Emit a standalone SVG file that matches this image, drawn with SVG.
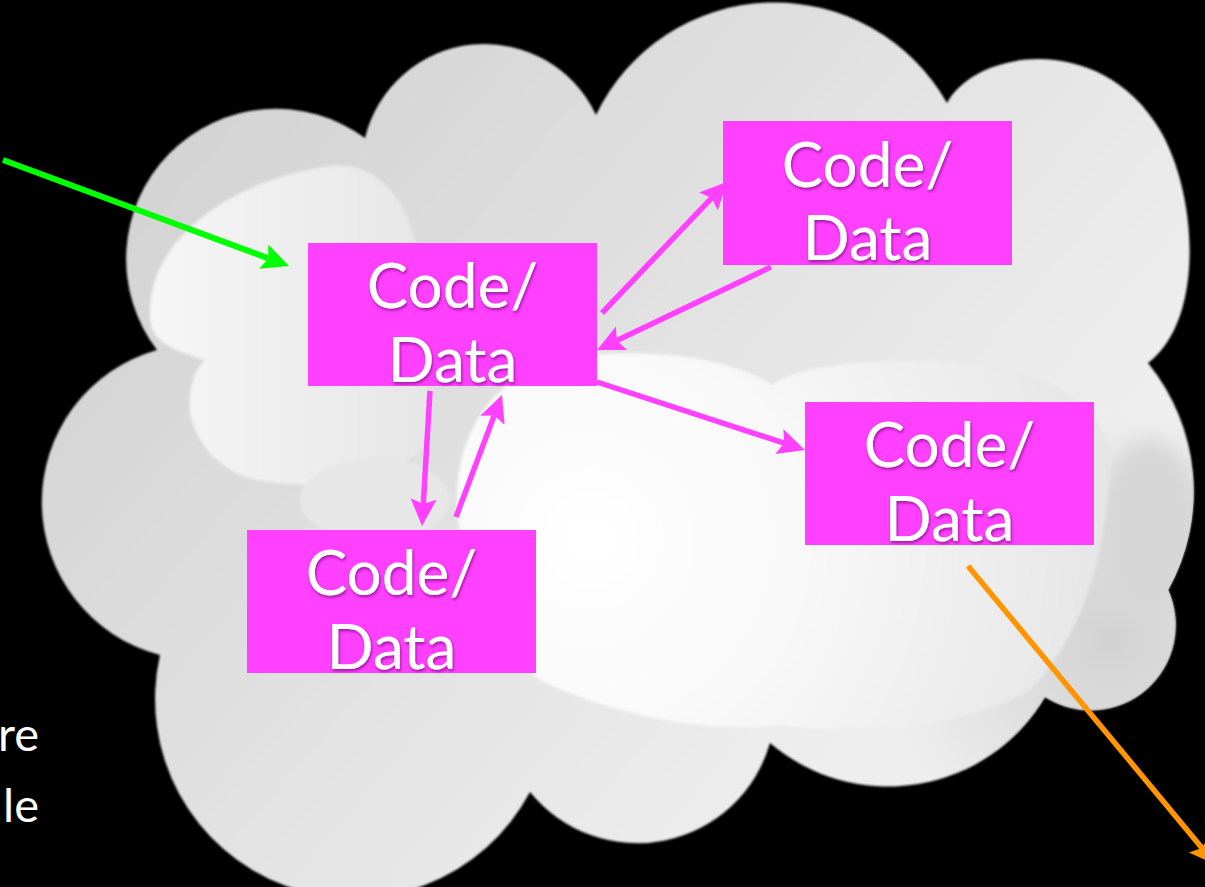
<svg xmlns="http://www.w3.org/2000/svg" width="1205" height="887" viewBox="0 0 1205 887">
  <defs>
    <style>
      .box { fill: #ff40ff; }
      .lbl { font-family: Lato, "Open Sans", "Liberation Sans", sans-serif; font-size: 62px; fill: #ffffff; text-anchor: middle; filter: url(#txtShadow); }
      .side { font-family: Lato, "Open Sans", "Liberation Sans", sans-serif; font-size: 47px; fill: #ffffff; text-anchor: end; }
      .wire { fill: none; stroke-width: 5.5; stroke-linecap: butt; }
      .w-green { stroke: #00ff00; stroke-width: 6; marker-end: url(#headGreen); }
      .w-pink { stroke: #ff40ff; marker-end: url(#headPink); }
      .w-orange { stroke: #ff9500; marker-end: url(#headOrange); }
    </style>

    <!-- swept-back arrowheads; the reference point is the notch where the shaft ends -->
    <marker id="headGreen" markerUnits="userSpaceOnUse" orient="auto" viewBox="-10 -20 40 40" markerWidth="40" markerHeight="40" refX="0" refY="0" overflow="visible">
      <path d="M22,0 L-5,-13 L0,0 L-5,13 Z" fill="#00ff00"/>
    </marker>
    <marker id="headPink" markerUnits="userSpaceOnUse" orient="auto" viewBox="-10 -20 40 40" markerWidth="40" markerHeight="40" refX="0" refY="0" overflow="visible">
      <path d="M22,0 L-5,-13 L0,0 L-5,13 Z" fill="#ff40ff"/>
    </marker>
    <marker id="headOrange" markerUnits="userSpaceOnUse" orient="auto" viewBox="-10 -20 40 40" markerWidth="40" markerHeight="40" refX="0" refY="0" overflow="visible">
      <path d="M22,0 L-5,-13 L0,0 L-5,13 Z" fill="#ff9500"/>
    </marker>

    <filter id="txtShadow" x="-20%" y="-30%" width="140%" height="160%">
      <feDropShadow dx="1" dy="2" stdDeviation="1.6" flood-color="#8c0a8c" flood-opacity="0.85"/>
    </filter>
    <filter id="softEdge" x="-5%" y="-5%" width="110%" height="110%">
      <feGaussianBlur stdDeviation="1"/>
    </filter>
    <filter id="softBlob" x="-20%" y="-20%" width="140%" height="140%">
      <feGaussianBlur stdDeviation="1.5"/>
    </filter>
    <filter id="haze" x="-50%" y="-50%" width="200%" height="200%">
      <feGaussianBlur stdDeviation="10"/>
    </filter>

    <linearGradient id="cloudBase" gradientUnits="userSpaceOnUse" x1="200" y1="100" x2="900" y2="700">
      <stop offset="0" stop-color="#d3d3d3"/>
      <stop offset="0.5" stop-color="#e1e1e1"/>
      <stop offset="1" stop-color="#eeeeee"/>
    </linearGradient>
    <radialGradient id="cloudShade" gradientUnits="userSpaceOnUse" cx="1110" cy="640" r="230">
      <stop offset="0" stop-color="#cfcfcf" stop-opacity="0.9"/>
      <stop offset="1" stop-color="#cfcfcf" stop-opacity="0"/>
    </radialGradient>
    <linearGradient id="leftBlob" gradientUnits="userSpaceOnUse" x1="150" y1="300" x2="430" y2="300">
      <stop offset="0" stop-color="#f6f6f6"/>
      <stop offset="1" stop-color="#e6e6e6"/>
    </linearGradient>
    <radialGradient id="centerBlob" gradientUnits="userSpaceOnUse" cx="590" cy="540" r="540">
      <stop offset="0" stop-color="#ffffff"/>
      <stop offset="0.4" stop-color="#f8f8f8"/>
      <stop offset="1" stop-color="#e4e4e4"/>
    </radialGradient>

    <clipPath id="cloudClip">
      <path id="cloudOutline" d="M157,350 A150,150 0 0 1 365,138 A123,123 0 0 1 596,115 A198,198 0 0 1 947,103 C975,50 1100,30 1160,130 C1198,195 1205,320 1148,363 A203,203 0 0 1 1168,590 A85,85 0 0 1 1045,697 A182,182 0 0 1 770,743 A138,138 0 0 1 530,792 A199,199 0 0 1 160,655 A158,158 0 0 1 157,350 Z"/>
    </clipPath>
  </defs>

  <rect x="0" y="0" width="1205" height="887" fill="#000000"/>

  <!-- cloud backdrop -->
  <g id="cloud">
    <use href="#cloudOutline" fill="url(#cloudBase)" filter="url(#softEdge)"/>
    <g clip-path="url(#cloudClip)">
      <rect x="0" y="0" width="1205" height="887" fill="url(#cloudShade)"/>
      <!-- darker lobe on the right -->
      <ellipse cx="1150" cy="525" rx="50" ry="85" fill="#d6d6d6" filter="url(#haze)"/>
      <!-- lighter puffs on the left -->
      <path d="M150,320 C145,240 230,180 330,166 C390,160 420,220 425,300 L430,440 C400,480 330,490 270,482 C215,478 185,430 190,395 C192,375 200,365 205,360 C170,350 152,340 150,320 Z" fill="url(#leftBlob)" filter="url(#softBlob)"/>
      <ellipse cx="375" cy="500" rx="75" ry="42" fill="#e7e7e7" filter="url(#softBlob)"/>
      <!-- bright puffs in the middle -->
      <path d="M462,545 C445,470 470,395 540,365 C600,345 720,350 772,385 C800,362 920,352 1010,370 C1080,385 1115,430 1110,470 C1105,560 1080,640 1030,690 C960,730 860,735 780,725 C700,735 600,710 540,680 C495,650 470,600 462,545 Z" fill="url(#centerBlob)" filter="url(#softBlob)"/>
    </g>
  </g>

  <!-- partly visible caption at the left edge -->
  <g id="side-text">
    <text class="side" x="39" y="751">re</text>
    <text class="side" x="39" y="822">le</text>
  </g>

  <g id="node-a">
    <rect class="box" x="308" y="243" width="289" height="143"/>
    <text class="lbl" x="452.5" y="308">Code/</text>
    <text class="lbl" x="452.5" y="382">Data</text>
  </g>
  <g id="node-b">
    <rect class="box" x="723" y="121" width="289" height="144"/>
    <text class="lbl" x="867.5" y="187">Code/</text>
    <text class="lbl" x="867.5" y="260">Data</text>
  </g>
  <g id="node-c">
    <rect class="box" x="805" y="402" width="289" height="143"/>
    <text class="lbl" x="949.5" y="467">Code/</text>
    <text class="lbl" x="949.5" y="541">Data</text>
  </g>
  <g id="node-d">
    <rect class="box" x="247" y="530" width="289" height="143"/>
    <text class="lbl" x="391.5" y="595">Code/</text>
    <text class="lbl" x="391.5" y="669">Data</text>
  </g>

  <g id="connectors">
    <line class="wire w-green" x1="3" y1="160" x2="268.4" y2="258.4"/>
    <line class="wire w-pink" x1="602" y1="313" x2="711.8" y2="197.9"/>
    <line class="wire w-pink" x1="771" y1="267" x2="616.9" y2="340.5"/>
    <line class="wire w-pink" x1="597" y1="382" x2="784.1" y2="443.2"/>
    <line class="wire w-pink" x1="430" y1="391" x2="423.3" y2="504"/>
    <line class="wire w-pink" x1="456" y1="517" x2="494.2" y2="415.6"/>
    <line class="wire w-orange" x1="968" y1="566" x2="1202" y2="848"/>
  </g>
</svg>
